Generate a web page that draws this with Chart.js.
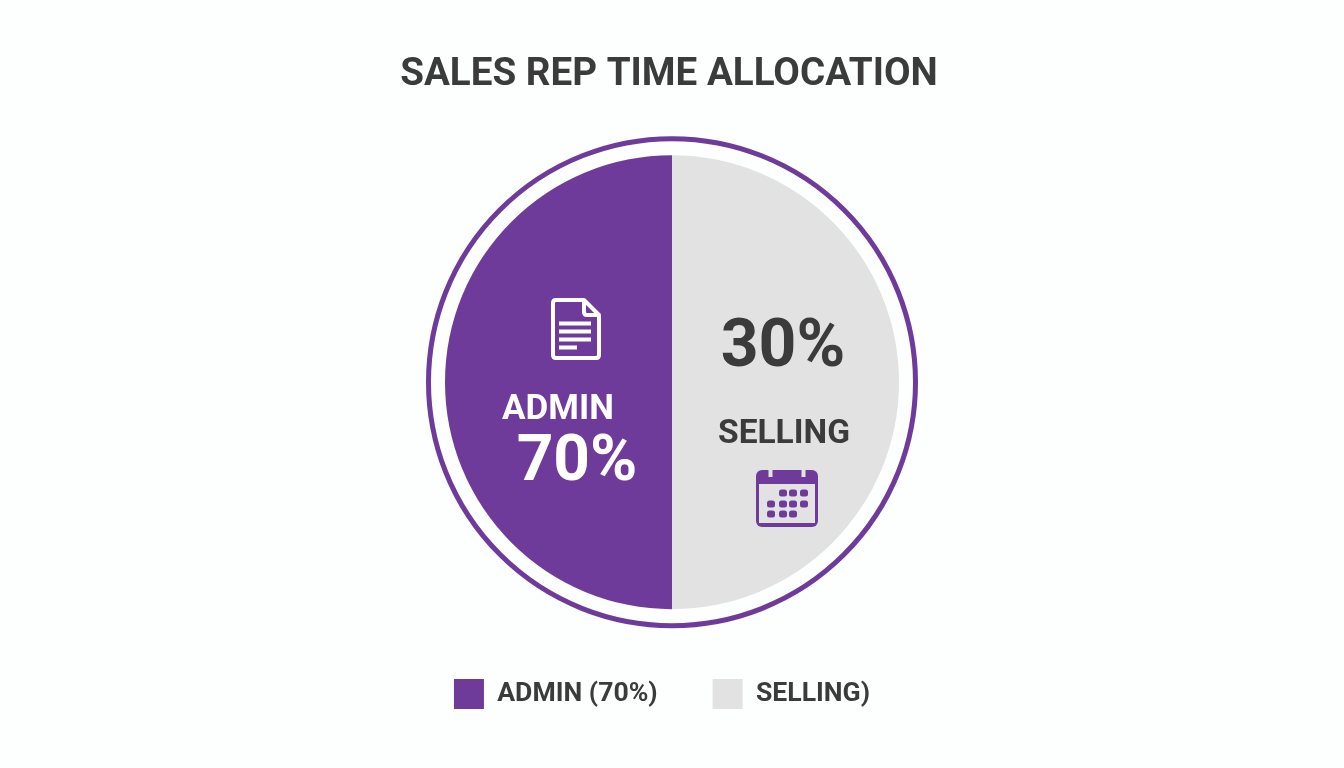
<!DOCTYPE html>
<html>
<head>
<meta charset="utf-8">
<title>Sales rep time allocation</title>
<script src="https://cdn.jsdelivr.net/npm/chart.js@4/dist/chart.umd.min.js"></script>
<style>
  html, body { margin: 0; padding: 0; background: #fdfefe; }
  canvas { display: block; }
</style>
</head>
<body>
<canvas id="chart-time" width="1344" height="768"></canvas>
<script>
const chartTitle = "SALES REP TIME ALLOCATION";
const legendLabels = ["ADMIN (70%)", "SELLING)"];
// the slices are drawn half and half in the picture, whatever the labels say
const sliceValues = [50, 50];
const sliceColors = ["#6f3b9a", "#e2e2e2"];
const adminText = ["ADMIN", "70%"];
const sellingText = ["30%", "SELLING"];

const PURPLE = "#6f3b9a";
const GREY = "#e2e2e2";
const DARK = "#3b3b3b";
const FONT = "Roboto, sans-serif";

function drawText(ctx, text, x, y, size, color) {
    ctx.font = "bold " + size + "px " + FONT;
    ctx.fillStyle = color;
    ctx.textAlign = "center";
    ctx.textBaseline = "middle";
    ctx.fillText(text, x, y);
}

function roundBox(ctx, x, y, w, h, r) {
    ctx.beginPath();
    ctx.roundRect(x, y, w, h, r);
}

function drawDocument(ctx) {
    ctx.strokeStyle = "#fff";
    ctx.fillStyle = "#fff";
    ctx.lineWidth = 4;
    ctx.lineJoin = "round";
    ctx.beginPath();
    ctx.moveTo(584, 300);
    ctx.lineTo(556, 300);
    ctx.quadraticCurveTo(553, 300, 553, 303);
    ctx.lineTo(553, 355);
    ctx.quadraticCurveTo(553, 358, 556, 358);
    ctx.lineTo(596, 358);
    ctx.quadraticCurveTo(599, 358, 599, 355);
    ctx.lineTo(599, 315);
    ctx.closePath();
    ctx.stroke();
    ctx.beginPath();
    ctx.moveTo(584, 300);
    ctx.lineTo(584, 312);
    ctx.quadraticCurveTo(584, 315, 587, 315);
    ctx.lineTo(599, 315);
    ctx.stroke();
    ctx.fillRect(559, 321.5, 32, 4);
    ctx.fillRect(559, 329.5, 32, 4);
    ctx.fillRect(559, 337.5, 32, 4);
    ctx.fillRect(559, 345.5, 18, 4);
}

function drawCalendar(ctx) {
    ctx.fillStyle = PURPLE;
    roundBox(ctx, 756, 470, 62, 57, 6);
    ctx.fill();
    ctx.fillStyle = GREY;
    ctx.fillRect(759, 484, 56, 39);
    ctx.fillRect(768.5, 469, 4, 8);
    ctx.fillRect(801.5, 469, 4, 8);
    ctx.fillStyle = PURPLE;
    const rows = [
        [493, [783, 793, 804]],
        [504, [771, 783, 793, 804]],
        [514, [771, 783, 793]]
    ];
    rows.forEach(function (row) {
        row[1].forEach(function (x) {
            roundBox(ctx, x - 4, row[0] - 3.5, 8, 7, 2.5);
            ctx.fill();
        });
    });
}

const decorations = {
    id: "decorations",
    afterLayout(chart) {
        // title and legend sit a little left of the pie in the reference
        chart.titleBlock.left -= 3;
        chart.titleBlock.right -= 3;
        chart.legend.left -= 10;
        chart.legend.right -= 10;
    },
    afterDatasetsDraw(chart) {
        const ctx = chart.ctx;
        const arc = chart.getDatasetMeta(0).data[0];
        ctx.save();
        ctx.strokeStyle = PURPLE;
        ctx.lineWidth = 5;
        ctx.beginPath();
        ctx.arc(arc.x, arc.y, arc.outerRadius + 16.5, 0, Math.PI * 2);
        ctx.stroke();

        drawDocument(ctx);
        drawCalendar(ctx);

        drawText(ctx, adminText[0], 558, 410, 35, "#fff");
        drawText(ctx, adminText[1], 577, 464, 64, "#fff");
        drawText(ctx, sellingText[0], 783, 349, 66, DARK);
        drawText(ctx, sellingText[1], 784, 435, 33.5, DARK);
        ctx.restore();
    }
};

new Chart(document.getElementById("chart-time"), {
    type: "pie",
    data: {
        labels: legendLabels,
        datasets: [{
            data: sliceValues,
            backgroundColor: sliceColors,
            borderWidth: 0,
            radius: 227
        }]
    },
    plugins: [decorations],
    options: {
        responsive: false,
        animation: false,
        rotation: 180,
        layout: { padding: { bottom: 49 } },
        plugins: {
            tooltip: { enabled: false },
            title: {
                display: true,
                text: chartTitle,
                color: DARK,
                font: { family: FONT, size: 38.6, weight: "bold", lineHeight: 1.2 },
                padding: { top: 52, bottom: 42 }
            },
            legend: {
                position: "bottom",
                labels: {
                    boxWidth: 30,
                    boxHeight: 30,
                    padding: 55,
                    color: DARK,
                    font: { family: FONT, size: 26.6, weight: "bold" }
                }
            }
        }
    }
});
</script>
</body>
</html>
